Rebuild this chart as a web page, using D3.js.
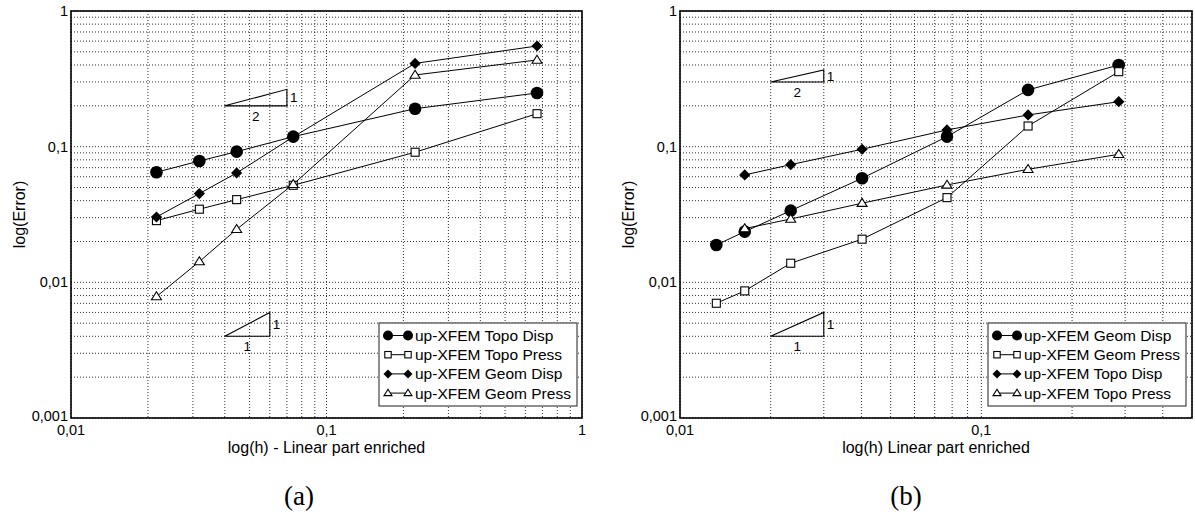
<!DOCTYPE html>
<html>
<head>
<meta charset="utf-8">
<script src="https://cdn.jsdelivr.net/npm/d3@7"></script>
<style>
  html, body { margin: 0; padding: 0; background: #fff; }
  svg { display: block; }
  text { font-family: "Liberation Sans", Arial, sans-serif; fill: #000; }
</style>
</head>
<body>
<svg id="chart" width="1195" height="518"></svg>
<script>
// ---------- DATA ----------
// Panel (a)
const hA = [0.0216, 0.0318, 0.0445, 0.0741, 0.2222, 0.6667];
const topoDispA  = [0.0648, 0.0784, 0.0919, 0.1185, 0.1905, 0.2487];
const topoPressA = [0.0285, 0.0346, 0.0407, 0.0519, 0.0910, 0.175];
const geomDispA  = [0.0303, 0.0451, 0.064, 0.118, 0.411, 0.552];
const geomPressA = [0.00785, 0.01422, 0.0246, 0.0528, 0.3376, 0.4355];

// Panel (b)
const hB = [0.0132, 0.0164, 0.0233, 0.0402, 0.0769, 0.1429, 0.2857];
const geomDispB  = [0.01886, 0.02364, 0.03375, 0.0585, 0.1185, 0.262, 0.40];
const geomPressB = [0.00701, 0.00865, 0.01383, 0.0208, 0.0421, 0.142, 0.357];
const topoDispB  = [null, 0.0619, 0.0737, 0.0957, 0.1328, 0.1713, 0.2146];
const topoPressB = [null, 0.0249, 0.0293, 0.0383, 0.0522, 0.0681, 0.0879];

// Axis ticks / labels
const yTickValues = [0.001, 0.01, 0.1, 1];
const yTickLabels = ["0,001", "0,01", "0,1", "1"];
const xTickValuesA = [0.01, 0.1, 1];
const xTickLabelsA = ["0,01", "0,1", "1"];
const xTickValuesB = [0.01, 0.1];
const xTickLabelsB = ["0,01", "0,1"];

// Series names
const namesA = ["up-XFEM Topo Disp", "up-XFEM Topo Press", "up-XFEM Geom Disp", "up-XFEM Geom Press"];
const namesB = ["up-XFEM Geom Disp", "up-XFEM Geom Press", "up-XFEM Topo Disp", "up-XFEM Topo Press"];

// Slope triangles: [x0, x1, y0, slope, runLabel, riseLabel]
const slopesA = [[0.04, 0.07, 0.2, 0.5, "2", "1"], [0.04, 0.06, 0.004, 1, "1", "1"]];
const slopesB = [[0.02, 0.03, 0.3, 0.5, "2", "1"], [0.02, 0.03, 0.004, 1, "1", "1"]];

// ---------- DRAWING ----------
const svg = d3.select("#chart");
const markerTypes = ["circle", "square", "diamond", "triangle"];

function drawMarker(g, type, x, y, s) {
  s = s || 1;
  if (type === "circle") {
    g.append("circle").attr("cx", x).attr("cy", y).attr("r", 6.3 * s).attr("fill", "#000");
  } else if (type === "square") {
    const a = 8 * s;
    g.append("rect").attr("x", x - a / 2).attr("y", y - a / 2).attr("width", a).attr("height", a)
      .attr("fill", "#fff").attr("stroke", "#000").attr("stroke-width", 1.1);
  } else if (type === "diamond") {
    const d = 5.6 * s;
    g.append("path").attr("d", `M${x},${y - d}L${x + d},${y}L${x},${y + d}L${x - d},${y}Z`).attr("fill", "#000");
  } else if (type === "triangle") {
    const w = 5 * s, h = 8 * s;
    g.append("path").attr("d", `M${x},${y - h * 0.6}L${x + w},${y + h * 0.4}L${x - w},${y + h * 0.4}Z`)
      .attr("fill", "#fff").attr("stroke", "#000").attr("stroke-width", 1.1);
  }
}

function drawPanel(cfg) {
  const { left, right, top, bottom, xDomain, h, series, names, xTicks, xLabels, xTitle, slopes, legend, caption, captionX } = cfg;
  const x = d3.scaleLog().domain(xDomain).range([left, right]);
  const y = d3.scaleLog().domain([0.001, 1]).range([bottom, top]);
  const g = svg.append("g");

  // grid
  const gridStyle = sel => sel.attr("stroke", "#333").attr("stroke-width", 1).attr("stroke-dasharray", "1,2");
  g.append("g").selectAll("line").data(x.ticks()).join("line")
    .attr("x1", d => x(d)).attr("x2", d => x(d)).attr("y1", top).attr("y2", bottom).call(gridStyle);
  g.append("g").selectAll("line").data(y.ticks()).join("line")
    .attr("x1", left).attr("x2", right).attr("y1", d => y(d)).attr("y2", d => y(d)).call(gridStyle);

  // tick labels
  g.append("g").selectAll("text").data(yTickValues).join("text")
    .attr("x", left - 3).attr("y", d => y(d) - (d === 0.001 ? 2 : 0)).attr("dy", "0.35em").attr("text-anchor", "end")
    .attr("font-size", 14.5).text((d, i) => yTickLabels[i]);
  g.append("g").selectAll("text").data(xTicks).join("text")
    .attr("x", d => x(d)).attr("y", bottom + 17).attr("text-anchor", "middle")
    .attr("font-size", 14.5).text((d, i) => xLabels[i]);

  // axis titles
  g.append("text").attr("x", (left + right) / 2).attr("y", bottom + 35).attr("text-anchor", "middle")
    .attr("font-size", 16).text(xTitle);
  g.append("text").attr("transform", `translate(${left - 46},${(top + bottom) / 2}) rotate(-90)`)
    .attr("text-anchor", "middle").attr("font-size", 16).text("log(Error)");

  // slope triangles
  slopes.forEach(s => {
    const [x0, x1, y0, k, runL, riseL] = s;
    const y1 = y0 * Math.pow(x1 / x0, k);
    g.append("path")
      .attr("d", `M${x(x0)},${y(y0)}L${x(x1)},${y(y0)}L${x(x1)},${y(y1)}Z`)
      .attr("fill", "none").attr("stroke", "#000").attr("stroke-width", 1.1);
    g.append("text").attr("x", (x(x0) + x(x1)) / 2).attr("y", y(y0) + 15).attr("text-anchor", "middle")
      .attr("font-size", 13.5).text(runL);
    g.append("text").attr("x", x(x1) + 3).attr("y", (y(y0) + y(y1)) / 2).attr("dy", "0.35em")
      .attr("font-size", 13.5).text(riseL);
  });

  // series
  const line = d3.line().defined(d => d[1] != null).x(d => x(d[0])).y(d => y(d[1]));
  series.forEach((vals, si) => {
    const pts = h.map((hv, i) => [hv, vals[i]]);
    g.append("path").attr("d", line(pts)).attr("fill", "none").attr("stroke", "#000").attr("stroke-width", 1);
  });
  series.forEach((vals, si) => {
    const mg = g.append("g");
    h.forEach((hv, i) => { if (vals[i] != null) drawMarker(mg, markerTypes[si], x(hv), y(vals[i])); });
  });

  // frame
  g.append("rect").attr("x", left).attr("y", top).attr("width", right - left).attr("height", bottom - top)
    .attr("fill", "none").attr("stroke", "#000").attr("stroke-width", 1.6);

  // legend
  const lg = g.append("g");
  lg.append("rect").attr("x", legend.x).attr("y", legend.y).attr("width", legend.w).attr("height", legend.h)
    .attr("fill", "#fff").attr("stroke", "#444").attr("stroke-width", 1.2);
  names.forEach((n, i) => {
    const yy = legend.y + 12.5 + i * 19.2;
    lg.append("line").attr("x1", legend.x + 9).attr("x2", legend.x + 29).attr("y1", yy).attr("y2", yy)
      .attr("stroke", "#000").attr("stroke-width", 1);
    drawMarker(lg, markerTypes[i], legend.x + 9, yy, 0.8);
    drawMarker(lg, markerTypes[i], legend.x + 29, yy, 0.8);
    lg.append("text").attr("x", legend.x + 36).attr("y", yy).attr("dy", "0.36em")
      .attr("font-size", 15.5).text(n);
  });

  // caption
  svg.append("text").attr("x", captionX).attr("y", 505).attr("text-anchor", "middle")
    .style("font-family", '"Liberation Serif", "DejaVu Serif", serif').attr("font-size", 27).text(caption);
}

drawPanel({
  left: 71, right: 582, top: 11, bottom: 418, xDomain: [0.01, 1], h: hA,
  series: [topoDispA, topoPressA, geomDispA, geomPressA], names: namesA,
  xTicks: xTickValuesA, xLabels: xTickLabelsA, xTitle: "log(h) - Linear part enriched",
  slopes: slopesA, legend: { x: 379, y: 323, w: 198, h: 83 }, caption: "(a)", captionX: 299
});
drawPanel({
  left: 680, right: 1192, top: 11, bottom: 418, xDomain: [0.01, 0.5], h: hB,
  series: [geomDispB, geomPressB, topoDispB, topoPressB], names: namesB,
  xTicks: xTickValuesB, xLabels: xTickLabelsB, xTitle: "log(h) Linear part enriched",
  slopes: slopesB, legend: { x: 988, y: 323, w: 198, h: 83 }, caption: "(b)", captionX: 906
});
</script>
</body>
</html>
